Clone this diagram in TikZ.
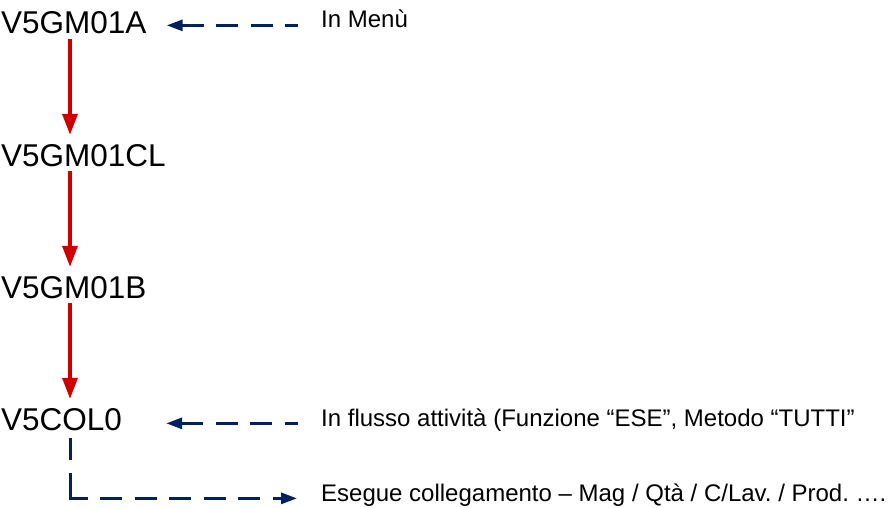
\documentclass[tikz,border=0pt]{standalone}
\usepackage{fontspec}
\setmainfont{Liberation Sans}
\usetikzlibrary{arrows.meta,calc}
\definecolor{flowred}{RGB}{204,0,0}
\definecolor{linkblue}{RGB}{0,32,96}
\frenchspacing
\newcommand\prog[3]{
  \node[prog] (#1) at (1,#2) {#3};
}
\newcommand\note[3]{
  \node[note] (#1) at (321,#2) {#3};
}
\begin{document}
\begin{tikzpicture}[x=1pt,y=-1pt,
    prog/.style={anchor=base west,inner sep=0pt,font=\fontsize{31.5}{38}\selectfont},
    note/.style={anchor=base west,inner sep=0pt,font=\fontsize{24}{29}\selectfont},
    flow/.style={draw=flowred,line width=3.5pt,-{Triangle[length=21pt,width=15pt]},shorten <=5pt,shorten >=9pt},
    link/.style={draw=linkblue,line width=3pt,dash pattern=on 22pt off 12.5pt},
    corner/.style={dash pattern=on 22pt off 13pt on 43pt off 12.5pt on 22pt off 12.5pt on 22pt off 12.5pt on 22pt off 12.5pt on 22pt off 12.5pt on 22pt off 12.5pt on 22pt off 12.5pt},
    tip/.style={{Triangle[length=16pt,width=11pt]}-}]
      \useasboundingbox (0,0) rectangle (888,508);
      \coordinate (axis) at (70,0);

      \prog{gm01a}{34}{V5GM01A}
      \prog{gm01cl}{166}{V5GM01CL}
      \prog{gm01b}{298}{V5GM01B}
      \prog{col0}{430}{V5COL0}

      \note{menu}{28}{In Menù}
      \note{flusso}{426}{In flusso attività (Funzione “ESE”, Metodo “TUTTI”}
      \note{colleg}{501}{Esegue collegamento – Mag / Qtà / C/Lav. / Prod. ….}

      \draw[flow] (gm01a.base -| axis) -- (gm01cl.north -| axis);
      \draw[flow] (gm01cl.base -| axis) -- (gm01b.north -| axis);
      \draw[flow] (gm01b.base -| axis) -- (col0.north -| axis);

      \draw[link,tip,shorten <=20pt,shorten >=23pt] (gm01a.east |- menu.mid) -- (menu.mid west);
      \draw[link,tip,shorten <=44pt,shorten >=23pt] (col0.east |- flusso.mid) -- (flusso.mid west);
      \draw[link,corner,-{Triangle[length=16pt,width=11pt]},shorten <=8pt,shorten >=24pt] (col0.base -| axis) |- (colleg.mid west);
\end{tikzpicture}
\end{document}
